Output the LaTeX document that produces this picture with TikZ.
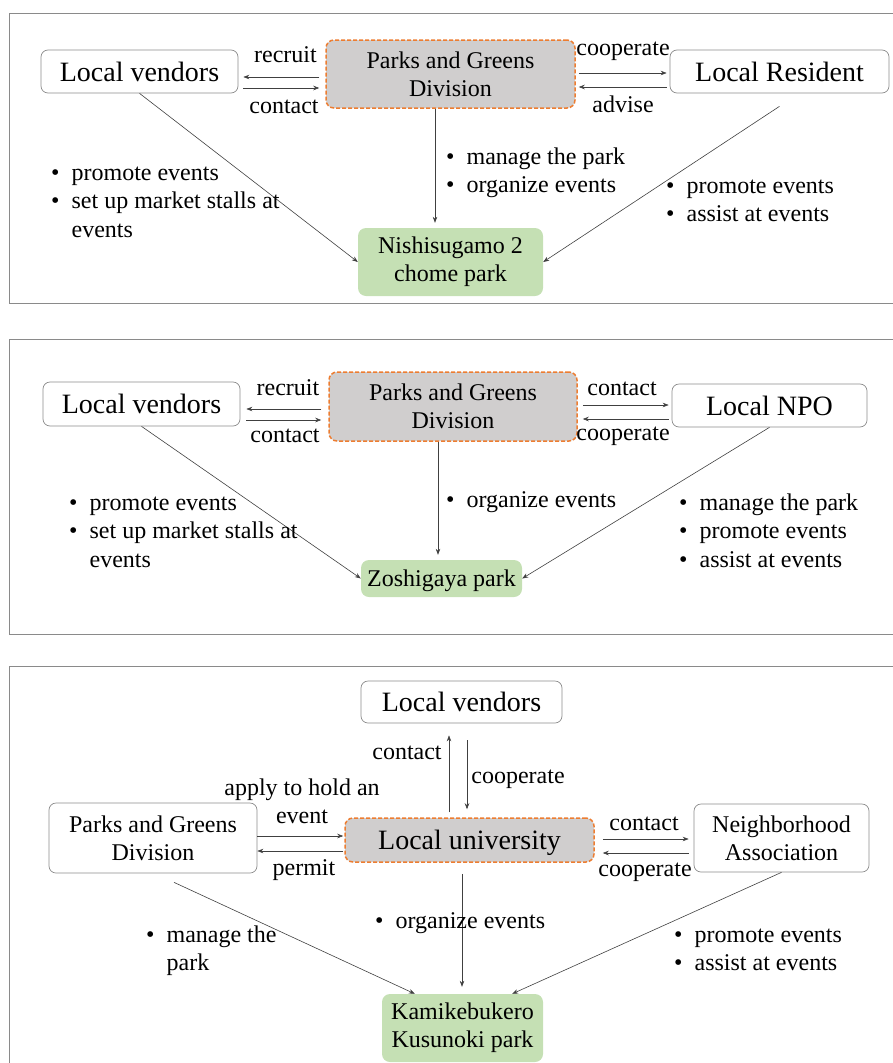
\documentclass[tikz,border=0pt]{standalone}
\usepackage{fontspec}
\setmainfont{Liberation Serif}
\usetikzlibrary{arrows.meta}
\definecolor{orange1}{HTML}{ED7D31}
\definecolor{gray1}{HTML}{D0CECE}
\definecolor{green1}{HTML}{C5E0B4}
\definecolor{boxgray}{HTML}{8C8C8C}
\definecolor{framegray}{HTML}{8A8A8A}
\definecolor{linegray}{HTML}{404040}
\tikzset{
  wbox/.style={draw=boxgray, line width=0.7pt, rounded corners=7pt, fill=white, inner sep=0pt, align=center},
  gbox/.style={draw=orange1, dash pattern=on 4pt off 2pt, line width=1.5pt, fill=gray1, rounded corners=8pt, inner sep=0pt, align=center},
  parkbox/.style={fill=green1, rounded corners=8pt, inner sep=0pt, align=center},
  bigfont/.style={font=\fontsize{28}{32}\selectfont},
  normfont/.style={font=\fontsize{24}{28}\selectfont},
  conn/.style={draw=linegray, line width=0.6pt, -{Stealth[length=6pt,width=4.5pt]}},
  lbl/.style={font=\fontsize{24}{28}\selectfont, anchor=base, inner sep=0pt},
  blist/.style={font=\fontsize{24}{28.5}\selectfont, anchor=base west, inner sep=0pt},
  framel/.style={draw=framegray, line width=1pt}
}
\newcommand{\bl}{\textbullet}
\begin{document}
\begin{tikzpicture}[x=1pt,y=-1pt]
\useasboundingbox (0,0) rectangle (893,1063);
% frames
\draw[framel] (893,13) -- (9,13) -- (9,303) -- (893,303);
\draw[framel] (893,339) -- (9,339) -- (9,634) -- (893,634);
\draw[framel] (893,666) -- (9,666) -- (9,1063);

% ---------- Panel 1 ----------
\node[wbox, bigfont, minimum width=197pt, minimum height=43pt] (lv1) at (139.5,71.5) {Local vendors};
\node[gbox, normfont, minimum width=249pt, minimum height=68pt] (pg1) at (450.5,74) {Parks and Greens\\Division};
\node[wbox, bigfont, minimum width=219pt, minimum height=43pt] (lr1) at (779.5,71.5) {Local Resident};
\node[parkbox, normfont, minimum width=185pt, minimum height=68pt] (np1) at (450.5,262) {Nishisugamo 2\\chome park};

\draw[conn, shorten <=6pt, shorten >=5pt] (pg1.west |- 0,77) -- (lv1.east |- 0,77);
\draw[conn, shorten <=5pt, shorten >=6pt] (lv1.east |- 0,88) -- (pg1.west |- 0,88);
\draw[conn, shorten <=3pt, shorten >=3pt] (pg1.east |- 0,73) -- (lr1.west |- 0,73);
\draw[conn, shorten <=3pt, shorten >=3pt] (lr1.west |- 0,87) -- (pg1.east |- 0,87);
\draw[conn, shorten >=5pt] (pg1.south -| 435,0) -- (np1.north -| 435,0);
\draw[conn] (lv1.south) -- (np1.west);
\draw[conn] ([yshift=-13pt]lr1.south) -- (np1.east);

\node[lbl] (l1a) at (285.5,62) {recruit};
\node[lbl] (l1b) at (284,113) {contact};
\node[lbl] (l1c) at (623,55) {cooperate};
\node[lbl] (l1d) at (623,112) {advise};

\node[blist] (b1a) at (51,180) {\begin{tabular}[t]{@{}l@{\hspace{12pt}}l@{}}\bl & promote events\\ \bl & set up market stalls at\\ & events\end{tabular}};
\node[blist] (b1b) at (446,164) {\begin{tabular}[t]{@{}l@{\hspace{12pt}}l@{}}\bl & manage the park\\ \bl & organize events\end{tabular}};
\node[blist] (b1c) at (666,193) {\begin{tabular}[t]{@{}l@{\hspace{12pt}}l@{}}\bl & promote events\\ \bl & assist at events\end{tabular}};

% ---------- Panel 2 ----------
\node[wbox, bigfont, minimum width=197pt, minimum height=44pt] (lv2) at (141.5,404) {Local vendors};
\node[gbox, normfont, minimum width=248pt, minimum height=69pt] (pg2) at (453,406.5) {Parks and Greens\\Division};
\node[wbox, bigfont, minimum width=195pt, minimum height=43pt] (npo2) at (769.5,405.5) {Local NPO};
\node[parkbox, normfont, minimum width=161pt, minimum height=37pt, text depth=0pt] (zp2) at (441.5,578.5) {Zoshigaya park};

\draw[conn, shorten <=7pt, shorten >=6pt] (pg2.west |- 0,409) -- (lv2.east |- 0,409);
\draw[conn, shorten <=6pt, shorten >=7pt] (lv2.east |- 0,420) -- (pg2.west |- 0,420);
\draw[conn, shorten <=5pt, shorten >=3pt] (pg2.east |- 0,405) -- (npo2.west |- 0,405);
\draw[conn, shorten <=3pt, shorten >=5pt] (npo2.west |- 0,419) -- (pg2.east |- 0,419);
\draw[conn, shorten >=5pt] (pg2.south -| 438,0) -- (zp2.north -| 438,0);
\draw[conn] (lv2.south) -- (zp2.west);
\draw[conn] (npo2.south) -- (zp2.east);

\node[lbl] (l2a) at (288,395) {recruit};
\node[lbl] (l2b) at (285,442) {contact};
\node[lbl] (l2c) at (622,395) {contact};
\node[lbl] (l2d) at (623,440) {cooperate};

\node[blist] (b2a) at (69,510) {\begin{tabular}[t]{@{}l@{\hspace{12pt}}l@{}}\bl & promote events\\ \bl & set up market stalls at\\ & events\end{tabular}};
\node[blist] (b2b) at (446,507) {\begin{tabular}[t]{@{}l@{\hspace{12pt}}l@{}}\bl & organize events\end{tabular}};
\node[blist] (b2c) at (679,510) {\begin{tabular}[t]{@{}l@{\hspace{12pt}}l@{}}\bl & manage the park\\ \bl & promote events\\ \bl & assist at events\end{tabular}};

% ---------- Panel 3 ----------
\node[wbox, bigfont, minimum width=201pt, minimum height=42pt] (lv3) at (461.5,702) {Local vendors};
\node[gbox, bigfont, minimum width=249pt, minimum height=44pt, text depth=0pt] (lu3) at (469.5,840) {Local university};
\node[wbox, normfont, minimum width=208pt, minimum height=70pt] (pg3) at (153,838) {Parks and Greens\\Division};
\node[wbox, normfont, minimum width=175pt, minimum height=68pt] (na3) at (781.5,838) {Neighborhood\\Association};
\node[parkbox, normfont, minimum width=161pt, minimum height=68pt] (kp3) at (462.5,1028) {Kamikebukero\\Kusunoki park};

\draw[conn, shorten <=5pt, shorten >=12pt] (lu3.north -| 449,0) -- (lv3.south -| 449,0);
\draw[conn, shorten <=17pt, shorten >=8pt] (lv3.south -| 467,0) -- (lu3.north -| 467,0);
\draw[conn, shorten >=1pt] (pg3.east |- 0,836) -- (lu3.west |- 0,836);
\draw[conn, shorten <=1pt] (lu3.west |- 0,851) -- (pg3.east |- 0,851);
\draw[conn, shorten <=8pt, shorten >=5pt] (lu3.east |- 0,839) -- (na3.west |- 0,839);
\draw[conn, shorten <=5pt, shorten >=8pt] (na3.west |- 0,853) -- (lu3.east |- 0,853);
\draw[conn, shorten <=11pt, shorten >=7pt] (lu3.south -| 462,0) -- (kp3.north -| 462,0);
\draw[conn] ([xshift=21pt,yshift=-9pt]pg3.south) -- ([xshift=33pt]kp3.north west);
\draw[conn] (na3.south) -- ([xshift=-31pt]kp3.north east);

\node[lbl] (l3a) at (407,759) {contact};
\node[lbl] (l3b) at (518,783) {cooperate};
\node[font=\fontsize{24}{28}\selectfont, inner sep=0pt, align=center, anchor=north] (l3c) at (302,778.6) {apply to hold an\\event};
\node[lbl] (l3d) at (304,875) {permit};
\node[lbl] (l3e) at (644,830) {contact};
\node[lbl] (l3f) at (645,876) {cooperate};

\node[blist] (b3a) at (146,942) {\begin{tabular}[t]{@{}l@{\hspace{12pt}}l@{}}\bl & manage the\\ & park\end{tabular}};
\node[blist] (b3b) at (375,928) {\begin{tabular}[t]{@{}l@{\hspace{12pt}}l@{}}\bl & organize events\end{tabular}};
\node[blist] (b3c) at (674,942) {\begin{tabular}[t]{@{}l@{\hspace{12pt}}l@{}}\bl & promote events\\ \bl & assist at events\end{tabular}};
\end{tikzpicture}
\end{document}
